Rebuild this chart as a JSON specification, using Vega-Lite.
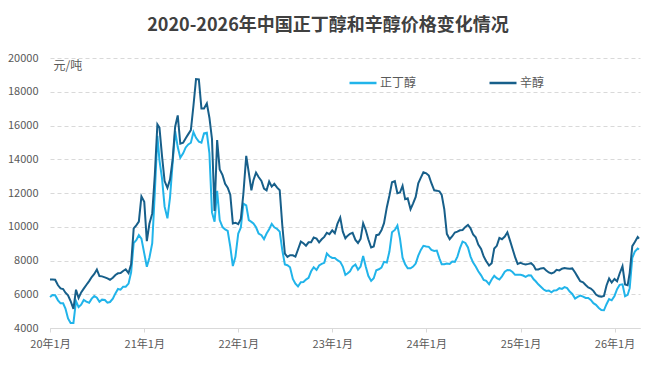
{
  "$schema": "https://vega.github.io/schema/vega-lite/v6.json",
  "autosize": {"type": "none"},
  "width": 590,
  "height": 270,
  "padding": {"left": 50, "top": 58, "right": 16, "bottom": 39},
  "background": "#ffffff",
  "config": {
    "view": {"stroke": null},
    "font": "Noto Sans CJK SC"
  },
  "title": {
    "text": "2020-2026年中国正丁醇和辛醇价格变化情况",
    "font": "Noto Sans CJK SC",
    "fontSize": 18,
    "fontWeight": "bold",
    "color": "#404040",
    "anchor": "middle",
    "frame": "group",
    "baseline": "middle",
    "offset": 8,
    "dx": -17
  },
  "data": {
    "values": [
      {"date": "2020-01-01", "正丁醇": 5840, "辛醇": 6880},
      {"date": "2020-01-11", "正丁醇": 5960, "辛醇": 6880},
      {"date": "2020-01-21", "正丁醇": 5940, "辛醇": 6860},
      {"date": "2020-02-01", "正丁醇": 5640, "辛醇": 6530},
      {"date": "2020-02-11", "正丁醇": 5460, "辛醇": 6350},
      {"date": "2020-02-21", "正丁醇": 5460, "辛醇": 6310},
      {"date": "2020-03-01", "正丁醇": 5150, "辛醇": 6090},
      {"date": "2020-03-11", "正丁醇": 4570, "辛醇": 5940},
      {"date": "2020-03-21", "正丁醇": 4300, "辛醇": 5600},
      {"date": "2020-04-01", "正丁醇": 4300, "辛醇": 5130},
      {"date": "2020-04-11", "正丁醇": 5600, "辛醇": 6270},
      {"date": "2020-04-21", "正丁醇": 5240, "辛醇": 5780},
      {"date": "2020-05-01", "正丁醇": 5380, "辛醇": 6110},
      {"date": "2020-05-11", "正丁醇": 5660, "辛醇": 6330},
      {"date": "2020-05-21", "正丁醇": 5560, "辛醇": 6550},
      {"date": "2020-06-01", "正丁醇": 5500, "辛醇": 6780},
      {"date": "2020-06-11", "正丁醇": 5740, "辛醇": 7020},
      {"date": "2020-06-21", "正丁醇": 5900, "辛醇": 7200},
      {"date": "2020-07-01", "正丁醇": 5800, "辛醇": 7460},
      {"date": "2020-07-11", "正丁醇": 5560, "辛醇": 7080},
      {"date": "2020-07-21", "正丁醇": 5680, "辛醇": 7060},
      {"date": "2020-08-01", "正丁醇": 5660, "辛醇": 7000},
      {"date": "2020-08-11", "正丁醇": 5500, "辛醇": 6940},
      {"date": "2020-08-21", "正丁醇": 5540, "辛醇": 6860},
      {"date": "2020-09-01", "正丁醇": 5740, "辛醇": 6980},
      {"date": "2020-09-11", "正丁醇": 6050, "辛醇": 7140},
      {"date": "2020-09-21", "正丁醇": 6310, "辛醇": 7240},
      {"date": "2020-10-01", "正丁醇": 6270, "辛醇": 7260},
      {"date": "2020-10-11", "正丁醇": 6450, "辛醇": 7380},
      {"date": "2020-10-21", "正丁醇": 6450, "辛醇": 7480},
      {"date": "2020-11-01", "正丁醇": 6630, "辛醇": 7260},
      {"date": "2020-11-11", "正丁醇": 7300, "辛醇": 7770},
      {"date": "2020-11-21", "正丁醇": 9040, "辛醇": 9900},
      {"date": "2020-12-01", "正丁醇": 9200, "辛醇": 10080},
      {"date": "2020-12-11", "正丁醇": 9500, "辛醇": 10300},
      {"date": "2020-12-21", "正丁醇": 9300, "辛醇": 11800},
      {"date": "2021-01-01", "正丁醇": 8420, "辛醇": 11480},
      {"date": "2021-01-11", "正丁醇": 7630, "辛醇": 9150},
      {"date": "2021-01-21", "正丁醇": 8160, "辛醇": 10180},
      {"date": "2021-02-01", "正丁醇": 9030, "辛醇": 10790},
      {"date": "2021-02-11", "正丁醇": 12020, "辛醇": 13060},
      {"date": "2021-02-21", "正丁醇": 15390, "辛醇": 16060},
      {"date": "2021-03-01", "正丁醇": 13950, "辛醇": 15870},
      {"date": "2021-03-11", "正丁醇": 12870, "辛醇": 14190},
      {"date": "2021-03-21", "正丁醇": 11190, "辛醇": 12710},
      {"date": "2021-04-01", "正丁醇": 10500, "辛醇": 12310},
      {"date": "2021-04-11", "正丁醇": 11720, "辛醇": 12790},
      {"date": "2021-04-21", "正丁醇": 13750, "辛醇": 13950},
      {"date": "2021-05-01", "正丁醇": 15670, "辛醇": 15930},
      {"date": "2021-05-11", "正丁醇": 14720, "辛醇": 16600},
      {"date": "2021-05-21", "正丁醇": 14090, "辛醇": 14920},
      {"date": "2021-06-01", "正丁醇": 14350, "辛醇": 14980},
      {"date": "2021-06-11", "正丁醇": 14700, "辛醇": 15250},
      {"date": "2021-06-21", "正丁醇": 14880, "辛醇": 15490},
      {"date": "2021-07-01", "正丁醇": 14980, "辛醇": 15730},
      {"date": "2021-07-11", "正丁醇": 15610, "辛醇": 17170},
      {"date": "2021-07-21", "正丁醇": 15270, "辛醇": 18750},
      {"date": "2021-08-01", "正丁醇": 15040, "辛醇": 18730},
      {"date": "2021-08-11", "正丁醇": 14980, "辛醇": 17010},
      {"date": "2021-08-21", "正丁醇": 15530, "辛醇": 17010},
      {"date": "2021-09-01", "正丁醇": 15570, "辛醇": 17310},
      {"date": "2021-09-11", "正丁醇": 14350, "辛醇": 16460},
      {"date": "2021-09-21", "正丁醇": 10850, "辛醇": 15200},
      {"date": "2021-10-01", "正丁醇": 10300, "辛醇": 10930},
      {"date": "2021-10-11", "正丁醇": 12130, "辛醇": 15140},
      {"date": "2021-10-21", "正丁醇": 10400, "辛醇": 13400},
      {"date": "2021-11-01", "正丁醇": 9980, "辛醇": 13060},
      {"date": "2021-11-11", "正丁醇": 9840, "辛醇": 12550},
      {"date": "2021-11-21", "正丁醇": 9760, "辛醇": 12310},
      {"date": "2021-12-01", "正丁醇": 8820, "辛醇": 11900},
      {"date": "2021-12-11", "正丁醇": 7670, "辛醇": 10200},
      {"date": "2021-12-21", "正丁醇": 8220, "辛醇": 10240},
      {"date": "2022-01-01", "正丁醇": 9600, "辛醇": 10150},
      {"date": "2022-01-11", "正丁醇": 9950, "辛醇": 10460},
      {"date": "2022-01-21", "正丁醇": 11370, "辛醇": 11970},
      {"date": "2022-02-01", "正丁醇": 11270, "辛醇": 14200},
      {"date": "2022-02-11", "正丁醇": 10390, "辛醇": 13190},
      {"date": "2022-02-21", "正丁醇": 10290, "辛醇": 12160},
      {"date": "2022-03-01", "正丁醇": 10190, "辛醇": 12760},
      {"date": "2022-03-11", "正丁醇": 9970, "辛醇": 13210},
      {"date": "2022-03-21", "正丁醇": 9600, "辛醇": 12950},
      {"date": "2022-04-01", "正丁醇": 9500, "辛醇": 12720},
      {"date": "2022-04-11", "正丁醇": 9260, "辛醇": 12260},
      {"date": "2022-04-21", "正丁醇": 9600, "辛醇": 12160},
      {"date": "2022-05-01", "正丁醇": 9850, "辛醇": 12680},
      {"date": "2022-05-11", "正丁醇": 10170, "辛醇": 12380},
      {"date": "2022-05-21", "正丁醇": 9970, "辛醇": 12540},
      {"date": "2022-06-01", "正丁醇": 9870, "辛醇": 12320},
      {"date": "2022-06-11", "正丁醇": 9710, "辛醇": 12160},
      {"date": "2022-06-21", "正丁醇": 8610, "辛醇": 10090},
      {"date": "2022-07-01", "正丁醇": 7760, "辛醇": 8410},
      {"date": "2022-07-11", "正丁醇": 7720, "辛醇": 8210},
      {"date": "2022-07-21", "正丁醇": 7600, "辛醇": 8310},
      {"date": "2022-08-01", "正丁醇": 6910, "辛醇": 8310},
      {"date": "2022-08-11", "正丁醇": 6630, "辛醇": 8230},
      {"date": "2022-08-21", "正丁醇": 6460, "辛醇": 8650},
      {"date": "2022-09-01", "正丁醇": 6710, "辛醇": 9120},
      {"date": "2022-09-11", "正丁醇": 6730, "辛醇": 9020},
      {"date": "2022-09-21", "正丁醇": 6870, "辛醇": 8880},
      {"date": "2022-10-01", "正丁醇": 6970, "辛醇": 9080},
      {"date": "2022-10-11", "正丁醇": 7360, "辛醇": 9080},
      {"date": "2022-10-21", "正丁醇": 7600, "辛醇": 9360},
      {"date": "2022-11-01", "正丁醇": 7440, "辛醇": 9300},
      {"date": "2022-11-11", "正丁醇": 7710, "辛醇": 9080},
      {"date": "2022-11-21", "正丁醇": 7800, "辛醇": 9260},
      {"date": "2022-12-01", "正丁醇": 7860, "辛醇": 9400},
      {"date": "2022-12-11", "正丁醇": 8410, "辛醇": 9640},
      {"date": "2022-12-21", "正丁醇": 8250, "辛醇": 9560},
      {"date": "2023-01-01", "正丁醇": 8150, "辛醇": 9790},
      {"date": "2023-01-11", "正丁醇": 8150, "辛醇": 9620},
      {"date": "2023-01-21", "正丁醇": 8020, "辛醇": 10170},
      {"date": "2023-02-01", "正丁醇": 7920, "辛醇": 10540},
      {"date": "2023-02-11", "正丁醇": 7640, "辛醇": 9710},
      {"date": "2023-02-21", "正丁醇": 7150, "辛醇": 9320},
      {"date": "2023-03-01", "正丁醇": 7230, "辛醇": 9460},
      {"date": "2023-03-11", "正丁醇": 7360, "辛醇": 9580},
      {"date": "2023-03-21", "正丁醇": 7640, "辛醇": 9640},
      {"date": "2023-04-01", "正丁醇": 7760, "辛醇": 9220},
      {"date": "2023-04-11", "正丁醇": 7460, "辛醇": 9040},
      {"date": "2023-04-21", "正丁醇": 7640, "辛醇": 9280},
      {"date": "2023-05-01", "正丁醇": 8270, "辛醇": 10210},
      {"date": "2023-05-11", "正丁醇": 7640, "辛醇": 9810},
      {"date": "2023-05-21", "正丁醇": 7090, "辛醇": 9260},
      {"date": "2023-06-01", "正丁醇": 6790, "辛醇": 8770},
      {"date": "2023-06-11", "正丁醇": 6950, "辛醇": 8830},
      {"date": "2023-06-21", "正丁醇": 7420, "辛醇": 9500},
      {"date": "2023-07-01", "正丁醇": 7480, "辛醇": 9540},
      {"date": "2023-07-11", "正丁醇": 7580, "辛醇": 9790},
      {"date": "2023-07-21", "正丁醇": 7920, "辛醇": 10210},
      {"date": "2023-08-01", "正丁醇": 7880, "辛醇": 11160},
      {"date": "2023-08-11", "正丁醇": 8530, "辛醇": 11850},
      {"date": "2023-08-21", "正丁醇": 9670, "辛醇": 12640},
      {"date": "2023-09-01", "正丁醇": 9810, "辛醇": 12700},
      {"date": "2023-09-11", "正丁醇": 10070, "辛醇": 11990},
      {"date": "2023-09-21", "正丁醇": 9300, "辛醇": 12030},
      {"date": "2023-10-01", "正丁醇": 8170, "辛醇": 12420},
      {"date": "2023-10-11", "正丁醇": 7780, "辛醇": 11630},
      {"date": "2023-10-21", "正丁醇": 7540, "辛醇": 11690},
      {"date": "2023-11-01", "正丁醇": 7540, "辛醇": 11040},
      {"date": "2023-11-11", "正丁醇": 7640, "辛醇": 11390},
      {"date": "2023-11-21", "正丁醇": 7820, "辛醇": 11770},
      {"date": "2023-12-01", "正丁醇": 8290, "辛醇": 12580},
      {"date": "2023-12-11", "正丁醇": 8630, "辛醇": 12910},
      {"date": "2023-12-21", "正丁醇": 8870, "辛醇": 13230},
      {"date": "2024-01-01", "正丁醇": 8830, "辛醇": 13170},
      {"date": "2024-01-11", "正丁醇": 8810, "辛醇": 13030},
      {"date": "2024-01-21", "正丁醇": 8630, "辛醇": 12580},
      {"date": "2024-02-01", "正丁醇": 8570, "辛醇": 12160},
      {"date": "2024-02-11", "正丁醇": 8590, "辛醇": 12140},
      {"date": "2024-02-21", "正丁醇": 8130, "辛醇": 12100},
      {"date": "2024-03-01", "正丁醇": 7780, "辛醇": 11890},
      {"date": "2024-03-11", "正丁醇": 7780, "辛醇": 11040},
      {"date": "2024-03-21", "正丁醇": 7820, "辛醇": 9580},
      {"date": "2024-04-01", "正丁醇": 7800, "辛醇": 9260},
      {"date": "2024-04-11", "正丁醇": 7940, "辛醇": 9440},
      {"date": "2024-04-21", "正丁醇": 7920, "辛醇": 9660},
      {"date": "2024-05-01", "正丁醇": 8230, "辛醇": 9710},
      {"date": "2024-05-11", "正丁醇": 8730, "辛醇": 9790},
      {"date": "2024-05-21", "正丁醇": 9120, "辛醇": 9810},
      {"date": "2024-06-01", "正丁醇": 9040, "辛醇": 9990},
      {"date": "2024-06-11", "正丁醇": 8770, "辛醇": 10110},
      {"date": "2024-06-21", "正丁醇": 8230, "辛醇": 9910},
      {"date": "2024-07-01", "正丁醇": 7880, "辛醇": 9540},
      {"date": "2024-07-11", "正丁醇": 7640, "辛醇": 9380},
      {"date": "2024-07-21", "正丁醇": 7360, "辛醇": 8950},
      {"date": "2024-08-01", "正丁醇": 7120, "辛醇": 8690},
      {"date": "2024-08-11", "正丁醇": 6850, "辛醇": 8240},
      {"date": "2024-08-21", "正丁醇": 6790, "辛醇": 7960},
      {"date": "2024-09-01", "正丁醇": 6590, "辛醇": 7700},
      {"date": "2024-09-11", "正丁醇": 6870, "辛醇": 7840},
      {"date": "2024-09-21", "正丁醇": 7100, "辛醇": 8710},
      {"date": "2024-10-01", "正丁醇": 6950, "辛醇": 8870},
      {"date": "2024-10-11", "正丁醇": 6870, "辛醇": 9340},
      {"date": "2024-10-21", "正丁醇": 7060, "辛醇": 9260},
      {"date": "2024-11-01", "正丁醇": 7340, "辛醇": 9420},
      {"date": "2024-11-11", "正丁醇": 7440, "辛醇": 9670},
      {"date": "2024-11-21", "正丁醇": 7420, "辛醇": 9190},
      {"date": "2024-12-01", "正丁醇": 7320, "辛醇": 8700},
      {"date": "2024-12-11", "正丁醇": 7150, "辛醇": 8200},
      {"date": "2024-12-21", "正丁醇": 7150, "辛醇": 7800},
      {"date": "2025-01-01", "正丁醇": 7150, "辛醇": 7860},
      {"date": "2025-01-11", "正丁醇": 7110, "辛醇": 7800},
      {"date": "2025-01-21", "正丁醇": 7030, "辛醇": 7760},
      {"date": "2025-02-01", "正丁醇": 7130, "辛醇": 7800},
      {"date": "2025-02-11", "正丁醇": 7110, "辛醇": 7840},
      {"date": "2025-02-21", "正丁醇": 6890, "辛醇": 7700},
      {"date": "2025-03-01", "正丁醇": 6770, "辛醇": 7470},
      {"date": "2025-03-11", "正丁醇": 6590, "辛醇": 7470},
      {"date": "2025-03-21", "正丁醇": 6440, "辛醇": 7530},
      {"date": "2025-04-01", "正丁醇": 6280, "辛醇": 7550},
      {"date": "2025-04-11", "正丁醇": 6200, "辛醇": 7410},
      {"date": "2025-04-21", "正丁醇": 6220, "辛醇": 7290},
      {"date": "2025-05-01", "正丁醇": 6120, "辛醇": 7230},
      {"date": "2025-05-11", "正丁醇": 6220, "辛醇": 7290},
      {"date": "2025-05-21", "正丁醇": 6240, "辛醇": 7450},
      {"date": "2025-06-01", "正丁醇": 6360, "辛醇": 7410},
      {"date": "2025-06-11", "正丁醇": 6320, "辛醇": 7510},
      {"date": "2025-06-21", "正丁醇": 6420, "辛醇": 7550},
      {"date": "2025-07-01", "正丁醇": 6360, "辛醇": 7530},
      {"date": "2025-07-11", "正丁醇": 6160, "辛醇": 7510},
      {"date": "2025-07-21", "正丁醇": 6020, "辛醇": 7530},
      {"date": "2025-08-01", "正丁醇": 5740, "辛醇": 7290},
      {"date": "2025-08-11", "正丁醇": 5840, "辛醇": 7030},
      {"date": "2025-08-21", "正丁醇": 5920, "辛醇": 6770},
      {"date": "2025-09-01", "正丁醇": 5860, "辛醇": 6710},
      {"date": "2025-09-11", "正丁醇": 5780, "辛醇": 6550},
      {"date": "2025-09-21", "正丁醇": 5780, "辛醇": 6400},
      {"date": "2025-10-01", "正丁醇": 5660, "辛醇": 6340},
      {"date": "2025-10-11", "正丁醇": 5470, "辛醇": 6200},
      {"date": "2025-10-21", "正丁醇": 5370, "辛醇": 5980},
      {"date": "2025-11-01", "正丁醇": 5190, "辛醇": 5880},
      {"date": "2025-11-11", "正丁醇": 5070, "辛醇": 5860},
      {"date": "2025-11-21", "正丁醇": 5050, "辛醇": 5900},
      {"date": "2025-12-01", "正丁醇": 5410, "辛醇": 6520},
      {"date": "2025-12-11", "正丁醇": 5710, "辛醇": 6930},
      {"date": "2025-12-21", "正丁醇": 5640, "辛醇": 6690},
      {"date": "2026-01-01", "正丁醇": 5900, "辛醇": 6910},
      {"date": "2026-01-11", "正丁醇": 6300, "辛醇": 6770},
      {"date": "2026-01-21", "正丁醇": 6560, "辛醇": 7230},
      {"date": "2026-02-01", "正丁醇": 6590, "辛醇": 7660},
      {"date": "2026-02-11", "正丁醇": 5880, "辛醇": 6580},
      {"date": "2026-02-21", "正丁醇": 5960, "辛醇": 6530},
      {"date": "2026-03-01", "正丁醇": 6360, "辛醇": 7270},
      {"date": "2026-03-11", "正丁醇": 8160, "辛醇": 8850},
      {"date": "2026-03-21", "正丁醇": 8530, "辛醇": 9090},
      {"date": "2026-04-01", "正丁醇": 8710, "辛醇": 9390},
      {"date": "2026-04-06", "正丁醇": 8650, "辛醇": 9290}
    ]
  },
  "transform": [
    {"fold": ["正丁醇", "辛醇"], "as": ["series", "price"]}
  ],
  "mark": {"type": "line", "strokeWidth": 2, "interpolate": "linear"},
  "encoding": {
    "x": {
      "field": "date",
      "type": "temporal",
      "scale": {
        "type": "utc",
        "domain": [
          {"year": 2020, "month": 1, "date": 1, "utc": true},
          {"year": 2026, "month": 4, "date": 10, "utc": true}
        ]
      },
      "axis": {
        "title": null,
        "format": "%y年%-m月",
        "tickCount": {"interval": "year", "step": 1},
        "grid": false,
        "domain": true,
        "domainColor": "#d9d9d9",
        "domainWidth": 1,
        "ticks": true,
        "tickColor": "#d9d9d9",
        "tickSize": 4,
        "labelFont": "Noto Sans CJK SC",
        "labelFontSize": 11,
        "labelColor": "#595959",
        "labelPadding": 6,
        "labelFlush": false,
        "zindex": 1
      }
    },
    "y": {
      "field": "price",
      "type": "quantitative",
      "scale": {"domain": [4000, 20000], "nice": false, "zero": false},
      "axis": {
        "values": [4000, 6000, 8000, 10000, 12000, 14000, 16000, 18000, 20000],
        "format": "d",
        "domain": false,
        "ticks": false,
        "grid": true,
        "gridColor": "#d9d9d9",
        "gridDash": [4, 3],
        "gridWidth": 1,
        "labelFont": "Noto Sans CJK SC",
        "labelFontSize": 11,
        "labelColor": "#595959",
        "labelPadding": 12,
        "title": "元/吨",
        "titleAngle": 0,
        "titleFont": "Noto Sans CJK SC",
        "titleFontSize": 12,
        "titleFontWeight": "normal",
        "titleColor": "#595959",
        "titleAlign": "left",
        "titleBaseline": "middle",
        "titleX": 3,
        "titleY": 7
      }
    },
    "color": {
      "field": "series",
      "type": "nominal",
      "scale": {"domain": ["正丁醇", "辛醇"], "range": ["#21b4ea", "#175f8a"]},
      "legend": {
        "title": null,
        "orient": "none",
        "direction": "horizontal",
        "legendX": 298,
        "legendY": 10,
        "symbolType": "stroke",
        "symbolSize": 729,
        "symbolStrokeWidth": 2.5,
        "labelFont": "Noto Sans CJK SC",
        "labelFontSize": 12,
        "labelColor": "#595959",
        "labelOffset": 2,
        "columnPadding": 67
      }
    }
  }
}
